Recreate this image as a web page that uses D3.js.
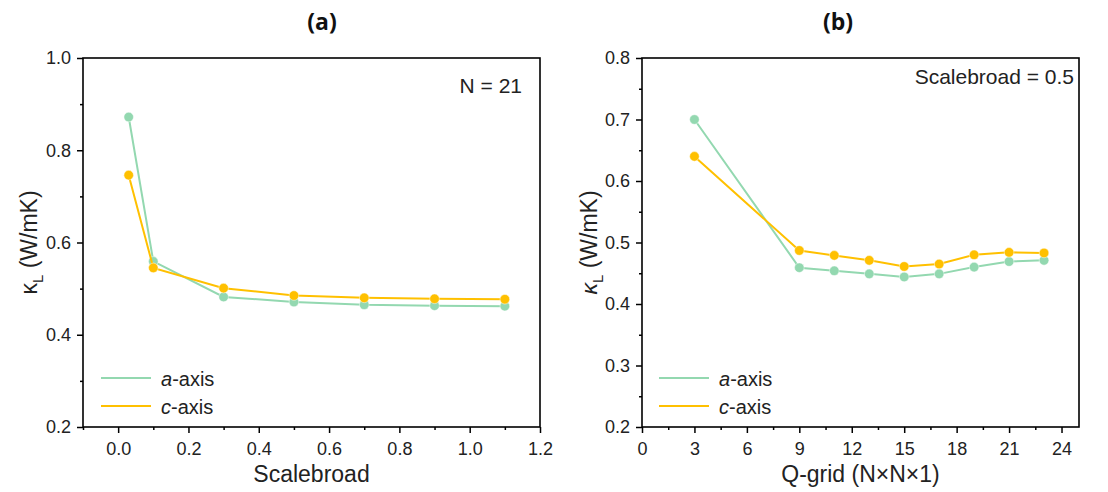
<!DOCTYPE html>
<html><head><meta charset="utf-8">
<script src="https://cdn.jsdelivr.net/npm/d3@7"></script>
<style>body{margin:0;background:#fff}svg{display:block}</style>
</head><body>
<svg id="c" width="1108" height="492"></svg>
<script>
// Panel (a)
const scaleA = [0.03, 0.1, 0.3, 0.5, 0.7, 0.9, 1.1];
const aAxisA = [0.872, 0.559, 0.482, 0.471, 0.465, 0.463, 0.462];
const cAxisA = [0.746, 0.545, 0.501, 0.485, 0.480, 0.478, 0.477];
const xTicksA = [0.0, 0.2, 0.4, 0.6, 0.8, 1.0, 1.2];
const yTicksA = [0.2, 0.4, 0.6, 0.8, 1.0];
// Panel (b)
const qgridB = [3, 9, 11, 13, 15, 17, 19, 21, 23];
const aAxisB = [0.700, 0.459, 0.454, 0.449, 0.444, 0.449, 0.460, 0.469, 0.471];
const cAxisB = [0.640, 0.487, 0.479, 0.471, 0.461, 0.465, 0.480, 0.484, 0.483];
const xTicksB = [0, 3, 6, 9, 12, 15, 18, 21, 24];
const yTicksB = [0.2, 0.3, 0.4, 0.5, 0.6, 0.7, 0.8];

const GREEN = "#93d8b0", ORANGE = "#ffc000";
const FONT = "'Liberation Sans', Arial, sans-serif";
const svg = d3.select("#c");

function panel(o) {
  const x = d3.scaleLinear().domain(o.xDom).range([o.x0, o.x1]);
  const y = d3.scaleLinear().domain(o.yDom).range([o.y1, o.y0]);
  const g = svg.append("g");
  // minor ticks
  g.append("g").attr("transform", `translate(0,${o.y1})`)
    .call(d3.axisBottom(x).tickValues(o.xMinor).tickSize(3).tickFormat(""))
    .call(s => s.select(".domain").remove());
  g.append("g").attr("transform", `translate(${o.x0},0)`)
    .call(d3.axisLeft(y).tickValues(o.yMinor).tickSize(3).tickFormat(""))
    .call(s => s.select(".domain").remove());
  g.append("g").attr("transform", `translate(0,${o.y1})`)
    .call(d3.axisBottom(x).tickValues(o.xTicks).tickSize(6).tickPadding(9).tickFormat(o.xFmt).tickSizeOuter(0));
  g.append("g").attr("transform", `translate(${o.x0},0)`)
    .call(d3.axisLeft(y).tickValues(o.yTicks).tickSize(6).tickPadding(6).tickFormat(d3.format(".1f")).tickSizeOuter(0));
  g.selectAll(".tick line").attr("stroke", "#000").attr("stroke-width", 1.5);
  g.selectAll(".domain").remove();
  g.selectAll(".tick text").attr("font-family", FONT).attr("font-size", 18).attr("fill", "#222");
  // frame
  g.append("rect").attr("x", o.x0).attr("y", o.y0).attr("width", o.x1 - o.x0).attr("height", o.y1 - o.y0)
    .attr("fill", "none").attr("stroke", "#000").attr("stroke-width", 1.6);

  const line = d3.line().x(d => x(d[0])).y(d => y(d[1]));
  [[o.a, GREEN], [o.c, ORANGE]].forEach(([vals, col]) => {
    const pts = o.xs.map((v, i) => [v, vals[i]]);
    g.append("path").datum(pts).attr("d", line).attr("fill", "none").attr("stroke", col).attr("stroke-width", 2);
    g.selectAll(null).data(pts).enter().append("circle")
      .attr("cx", d => x(d[0])).attr("cy", d => y(d[1])).attr("r", 4.8)
      .attr("fill", col).attr("stroke", "#fff").attr("stroke-opacity", 0.6).attr("stroke-width", 0.8);
  });
  // legend
  [["a", GREEN, 378], ["c", ORANGE, 406]].forEach(([lab, col, ly]) => {
    g.append("line").attr("x1", o.lx).attr("x2", o.lx + 50).attr("y1", ly).attr("y2", ly)
      .attr("stroke", col).attr("stroke-width", 2);
    const t = g.append("text").attr("x", o.lx + 60).attr("y", ly + 7.5).attr("font-family", FONT)
      .attr("font-size", 20).attr("fill", "#222");
    t.append("tspan").attr("font-style", "italic").text(lab);
    t.append("tspan").text("-axis");
  });
  // annotation
  g.append("text").attr("x", o.noteX).attr("y", o.noteY).attr("text-anchor", "end")
    .attr("font-family", FONT).attr("font-size", 21).attr("fill", "#222").text(o.note);
  // x title
  g.append("text").attr("x", (o.x0 + o.x1) / 2).attr("y", 482).attr("text-anchor", "middle")
    .attr("font-family", FONT).attr("font-size", 23).attr("fill", "#222").text(o.xTitle);
  // y title
  const yt = g.append("text").attr("transform", `translate(${o.yTitleX},${(o.y0 + o.y1) / 2}) rotate(-90)`)
    .attr("text-anchor", "middle").attr("font-family", FONT).attr("font-size", 23).attr("fill", "#222");
  yt.append("tspan").attr("font-style", o.kItalic ? "italic" : "normal").text("κ");
  yt.append("tspan").attr("font-size", 15).attr("dy", 6).text("L");
  yt.append("tspan").attr("dy", -6).text(" (W/mK)");
  // panel title
  g.append("text").attr("x", o.titleX).attr("y", 30).attr("text-anchor", "middle")
    .attr("font-family", "'Open Sans', sans-serif").attr("font-weight", "bold").attr("font-size", 23)
    .attr("fill", "#111").text(o.title);
}

panel({
  x0: 83, x1: 540, y0: 58, y1: 427, xDom: [-0.1, 1.2], yDom: [0.2, 1.0],
  xTicks: xTicksA, yTicks: yTicksA,
  xMinor: [-0.1, 0.1, 0.3, 0.5, 0.7, 0.9, 1.1], yMinor: [0.3, 0.5, 0.7, 0.9],
  xFmt: d3.format(".1f"), xs: scaleA, a: aAxisA, c: cAxisA,
  lx: 101, note: "N = 21", noteX: 522, noteY: 93, xTitle: "Scalebroad", yTitleX: 37, kItalic: false,
  title: "(a)", titleX: 322
});
panel({
  x0: 642, x1: 1079, y0: 58, y1: 427, xDom: [0, 25], yDom: [0.2, 0.8],
  xTicks: xTicksB, yTicks: yTicksB,
  xMinor: [1.5, 4.5, 7.5, 10.5, 13.5, 16.5, 19.5, 22.5], yMinor: [0.25, 0.35, 0.45, 0.55, 0.65, 0.75],
  xFmt: d3.format("d"), xs: qgridB, a: aAxisB, c: cAxisB,
  lx: 659, note: "Scalebroad = 0.5", noteX: 1074, noteY: 84, xTitle: "Q-grid (N×N×1)", yTitleX: 597, kItalic: true,
  title: "(b)", titleX: 838
});
</script>
</body></html>
